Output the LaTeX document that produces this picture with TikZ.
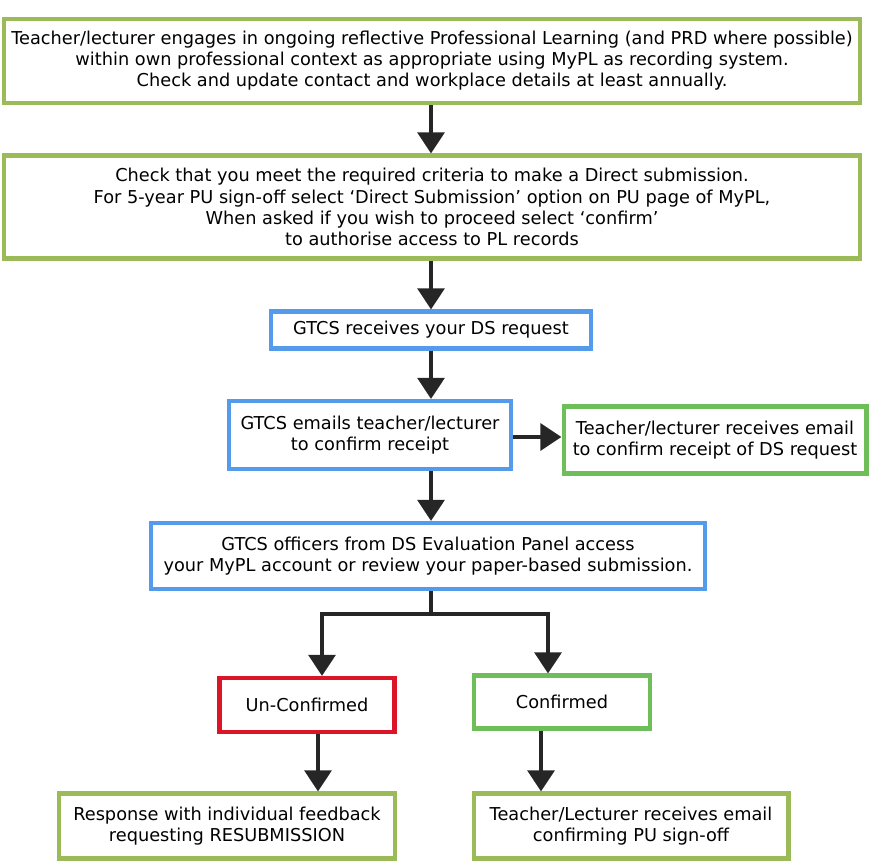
\documentclass[tikz,border=0pt]{standalone}
\usepackage{fontspec}
\setmainfont{DejaVu Sans}
\usepackage{tikz}
\usetikzlibrary{arrows.meta, positioning, calc}
\definecolor{leaf}{RGB}{155,187,89}
\definecolor{sky}{RGB}{85,155,235}
\definecolor{alarm}{RGB}{220,20,40}
\definecolor{lawn}{RGB}{110,190,90}

\begin{document}
\begin{tikzpicture}[x=0.02cm, y=-0.02cm,
  box/.style={draw, line width=2.3pt, fill=white, align=center,
              font=\fontsize{10.1}{12}\selectfont, inner sep=2pt},
  arrow/.style={-{Triangle[length=12pt, width=15pt]}, line width=2.8pt, draw=black!85},
]
\useasboundingbox (0,0) rectangle (872,868);

% Main column
\node[box, draw=leaf, minimum width=17.14cm, minimum height=1.68cm] (learn) at (432,61)
  {Teacher/lecturer engages in ongoing reflective Professional Learning (and PRD where possible)\\
   within own professional context as appropriate using MyPL as recording system.\\
   Check and update contact and workplace details at least annually.};
\node[box, draw=leaf, minimum width=17.14cm, minimum height=2.06cm] (check) at (432,207)
  {Check that you meet the required criteria to make a Direct submission.\\
   For 5-year PU sign-off select `Direct Submission' option on PU page of MyPL,\\
   When asked if you wish to proceed select `confirm'\\
   to authorise access to PL records};
\node[box, draw=sky, minimum width=6.42cm, minimum height=0.74cm] (recv) at (431,330)
  {GTCS receives your DS request};
\node[box, draw=sky, minimum width=5.66cm, minimum height=1.36cm] (mail) at (370,435)
  {GTCS emails teacher/lecturer\\to confirm receipt};
\node[box, draw=lawn, minimum width=6.06cm, minimum height=1.34cm] (got) at (715,440)
  {Teacher/lecturer receives email\\to confirm receipt of DS request};
\node[box, draw=sky, minimum width=11.1cm, minimum height=1.32cm] (panel) at (428,556)
  {GTCS officers from DS Evaluation Panel access\\
   your MyPL account or review your paper-based submission.};

% Outcomes
\node[box, draw=alarm, minimum width=3.5cm, minimum height=1.08cm] (unconf) at (307,705)
  {Un-Confirmed};
\node[box, draw=lawn, minimum width=3.52cm, minimum height=1.06cm] (conf) at (562,702)
  {Confirmed};
\node[box, draw=leaf, minimum width=6.74cm, minimum height=1.3cm] (resub) at (227,826)
  {Response with individual feedback\\requesting RESUBMISSION};
\node[box, draw=leaf, minimum width=6.3cm, minimum height=1.3cm] (signoff) at (631,826)
  {Teacher/Lecturer receives email\\confirming PU sign-off};

% Arrows
\draw[arrow] (learn.south -| 431,0) -- (check.north -| 431,0);
\draw[arrow] (check.south -| 431,0) -- (recv.north -| 431,0);
\draw[arrow] (recv.south -| 431,0) -- (mail.north -| 431,0);
\draw[arrow] (mail.east |- 0,437) -- (got.west |- 0,437);
\draw[arrow] (mail.south -| 431,0) -- (panel.north -| 431,0);
\coordinate (split) at (431,614);
\draw[line width=2.8pt, draw=black!85] (panel.south -| split) -- (split);
\draw[arrow] (split) -| (unconf.north -| 322,0);
\draw[arrow] (split) -| (conf.north -| 548,0);
\draw[arrow] (unconf.south -| 318,0) -- (resub.north -| 318,0);
\draw[arrow] (conf.south -| 541,0) -- (signoff.north -| 541,0);
\end{tikzpicture}
\end{document}
